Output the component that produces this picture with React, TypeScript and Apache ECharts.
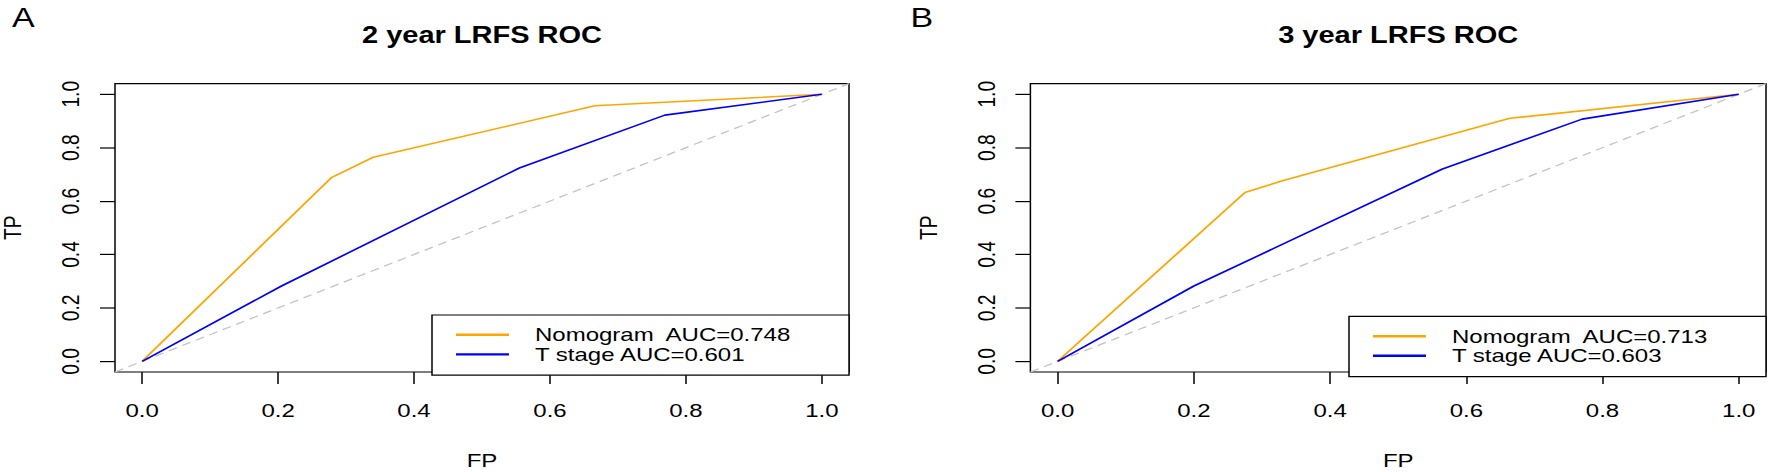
import React, { useEffect, useRef } from "react";
import * as echarts from "echarts";

// ---------- data ----------
const tickValues = [0, 0.2, 0.4, 0.6, 0.8, 1.0];
const diagonal = [-0.04, 1.04];

const panelTitles = ["2 year LRFS ROC", "3 year LRFS ROC"];
const panelLetters = ["A", "B"];

// 2-year
const fpNomogram2 = [0, 0.279, 0.34, 0.666, 1];
const tpNomogram2 = [0, 0.689, 0.764, 0.957, 1];
const fpTstage2 = [0, 0.205, 0.555, 0.769, 1];
const tpTstage2 = [0, 0.282, 0.724, 0.922, 1];
const legend2 = ["Nomogram  AUC=0.748", "T stage AUC=0.601"];

// 3-year
const fpNomogram3 = [0, 0.275, 0.33, 0.664, 1];
const tpNomogram3 = [0, 0.632, 0.676, 0.91, 1];
const fpTstage3 = [0, 0.2, 0.565, 0.77, 1];
const tpTstage3 = [0, 0.282, 0.72, 0.907, 1];
const legend3 = ["Nomogram  AUC=0.713", "T stage AUC=0.603"];

// ---------- layout ----------
const W = 1770;
const H_ACT = 472;
const SQUASH = 0.8;
const H = H_ACT / SQUASH;
const FONT = "'Liberation Sans', Arial, sans-serif";
const ORANGE = "#FFA500";
const BLUE = "#0000FF";
const GRAY = "#c4c4c4";

const zip = (xs: number[], ys: number[]) => xs.map((x, i) => [x, ys[i]]);

function buildAxes(gridIndex: number) {
  const common = {
    type: "value" as const,
    gridIndex,
    min: -0.04,
    max: 1.04,
    splitLine: { show: false },
    axisLine: { show: false, onZero: false },
    axisTick: {
      show: true,
      length: 15,
      lineStyle: { color: "#000", width: 1.5 },
      customValues: tickValues,
    },
    nameLocation: "middle" as const,
    nameTextStyle: { fontFamily: FONT, fontSize: 24, color: "#000" },
  };
  const x = {
    ...common,
    name: "FP",
    nameGap: 98,
    axisLabel: {
      customValues: tickValues,
      formatter: (v: number) => v.toFixed(1),
      fontFamily: FONT,
      fontSize: 24,
      color: "#000",
      margin: 35.5,
    },
  };
  const y = {
    ...common,
    name: "TP",
    nameGap: 90,
    axisLabel: {
      customValues: tickValues,
      formatter: (v: number) => v.toFixed(1),
      fontFamily: FONT,
      fontSize: 24,
      color: "#000",
      rotate: 90,
      margin: 32,
    },
  };
  return { x, y };
}

function buildSeries(
  idx: number,
  names: string[],
  fpN: number[],
  tpN: number[],
  fpT: number[],
  tpT: number[]
) {
  return [
    {
      type: "line",
      name: "ref" + idx,
      xAxisIndex: idx,
      yAxisIndex: idx,
      data: zip(diagonal, diagonal),
      symbol: "none",
      silent: true,
      lineStyle: { color: GRAY, width: 1.6, type: [9, 6] },
      itemStyle: { color: GRAY },
      z: 1,
    },
    {
      type: "line",
      name: names[0],
      xAxisIndex: idx,
      yAxisIndex: idx,
      data: zip(fpN, tpN),
      symbol: "none",
      lineStyle: { color: ORANGE, width: 2 },
      itemStyle: { color: ORANGE },
      z: 3,
    },
    {
      type: "line",
      name: names[1],
      xAxisIndex: idx,
      yAxisIndex: idx,
      data: zip(fpT, tpT),
      symbol: "none",
      lineStyle: { color: BLUE, width: 2 },
      itemStyle: { color: BLUE },
      z: 3,
    },
  ];
}

function buildLegend(names: string[], left: number, top: number) {
  return {
    data: names,
    left,
    top,
    orient: "vertical" as const,
    selectedMode: false,
    icon: "rect",
    itemWidth: 53,
    itemHeight: 3,
    itemGap: 0.5,
    padding: [12.75, 57.25, 14, 24],
    backgroundColor: "#fff",
    borderColor: "#000",
    borderWidth: 1.5,
    borderRadius: 0,
    textStyle: {
      fontFamily: FONT,
      fontSize: 24,
      color: "#000",
      lineHeight: 22,
      padding: [0, 0, 0, 21],
    },
  };
}

function textEl(text: string, x: number, y: number, size: number, bold: boolean, align: string) {
  return {
    type: "text",
    x,
    y,
    silent: true,
    style: {
      text,
      fontFamily: FONT,
      fontSize: size,
      fontWeight: bold ? "bold" : "normal",
      fill: "#000",
      align,
      textAlign: align,
      verticalAlign: "middle",
      textVerticalAlign: "middle",
    },
  };
}

export default function App() {
  const ref = useRef<HTMLDivElement>(null);
  useEffect(() => {
    if (!ref.current) return;
    const chart = echarts.init(ref.current, undefined, { renderer: "svg", width: W, height: H });
    const a0 = buildAxes(0);
    const a1 = buildAxes(1);
    const option: any = {
      animation: false,
      backgroundColor: "#fff",
      grid: [
        { left: 115, top: 104.5, width: 734, height: 360.5, show: true, borderColor: "#000", borderWidth: 1.5, backgroundColor: "transparent", outerBoundsMode: "none" },
        { left: 1030.4, top: 104.5, width: 735.6, height: 360.5, show: true, borderColor: "#000", borderWidth: 1.5, backgroundColor: "transparent", outerBoundsMode: "none" },
      ],
      xAxis: [a0.x, a1.x],
      yAxis: [a0.y, a1.y],
      legend: [buildLegend(legend2, 432, 393.75), buildLegend(legend3, 1349, 395.5)],
      series: [
        ...buildSeries(0, legend2, fpNomogram2, tpNomogram2, fpTstage2, tpTstage2),
        ...buildSeries(1, legend3, fpNomogram3, tpNomogram3, fpTstage3, tpTstage3),
      ],
      graphic: [
        textEl(panelTitles[0], 482, 44.4, 29, true, "center"),
        textEl(panelTitles[1], 1398.2, 44.4, 29, true, "center"),
        textEl(panelLetters[0], 12, 21.9, 34, false, "left"),
        textEl(panelLetters[1], 910.5, 21.9, 34, false, "left"),
      ],
    };
    chart.setOption(option);
    return () => chart.dispose();
  }, []);
  return (
    <div
      style={{
        position: "fixed",
        left: 0,
        top: 0,
        width: W,
        height: H_ACT,
        overflow: "hidden",
        background: "#fff",
      }}
    >
      <div
        ref={ref}
        style={{
          width: W,
          height: H,
          transform: `scale(1, ${SQUASH})`,
          transformOrigin: "0 0",
        }}
      />
    </div>
  );
}
